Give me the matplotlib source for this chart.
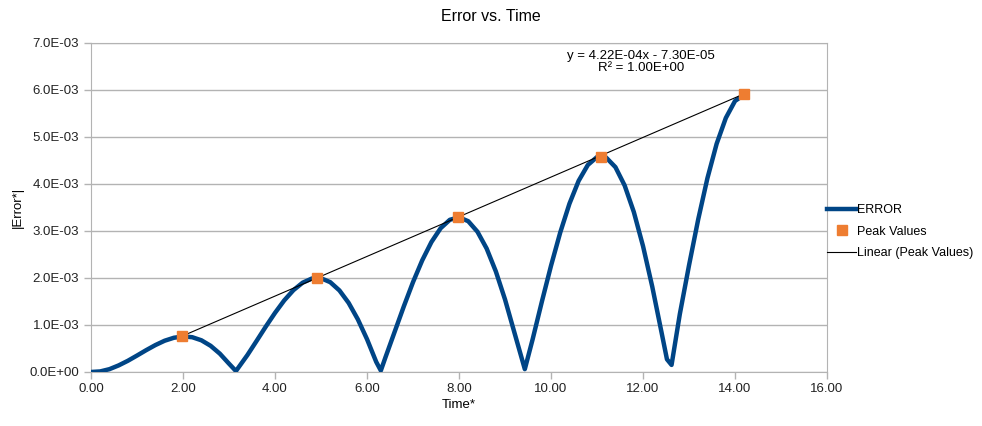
import numpy as np
import matplotlib
matplotlib.use('Agg')
import matplotlib.pyplot as plt
from matplotlib.ticker import FuncFormatter, MultipleLocator

# error curve (values in units of 1e-3)
time = [0.0, 0.2, 0.4, 0.6, 0.8, 1.0, 1.2, 1.4, 1.6, 1.8, 2.0, 2.2, 2.4, 2.6, 2.8,
        3.0, 3.15, 3.4, 3.6, 3.8, 4.0, 4.2, 4.4, 4.6, 4.8, 5.0, 5.2, 5.4, 5.6, 5.8,
        6.0, 6.2, 6.3, 6.4, 6.6, 6.8, 7.0, 7.2, 7.4, 7.6, 7.8, 8.0, 8.2, 8.4, 8.6,
        8.8, 9.0, 9.2, 9.43, 9.6, 9.8, 10.0, 10.2, 10.4, 10.6, 10.8, 11.0, 11.2,
        11.4, 11.6, 11.8, 12.0, 12.2, 12.4, 12.52, 12.62, 12.8, 13.0, 13.2, 13.4,
        13.6, 13.8, 14.0, 14.2]
error = [0.0, 0.012, 0.060, 0.140, 0.238, 0.350, 0.465, 0.573, 0.665, 0.728, 0.756,
         0.740, 0.674, 0.557, 0.390, 0.176, 0.02, 0.361, 0.662, 0.967, 1.258, 1.523,
         1.741, 1.900, 1.988, 1.994, 1.911, 1.735, 1.470, 1.120, 0.697, 0.214, 0.03,
         0.310, 0.854, 1.397, 1.913, 2.376, 2.765, 3.059, 3.238, 3.291, 3.208, 2.985,
         2.627, 2.140, 1.542, 0.852, 0.06, 0.696, 1.494, 2.262, 2.968, 3.580, 4.067,
         4.405, 4.574, 4.560, 4.358, 3.969, 3.403, 2.677, 1.817, 0.853, 0.27, 0.15,
         1.233, 2.271, 3.250, 4.124, 4.855, 5.405, 5.767, 5.900]

peak_time = [1.98, 4.91, 7.98, 11.09, 14.2]
peak_error = [0.76, 1.99, 3.30, 4.58, 5.91]

slope = 4.22e-4
intercept = -7.30e-5

blue = '#004586'
orange = '#ee7d31'
grid_gray = '#b3b3b3'

plt.rcParams.update({
    'font.family': ['Liberation Sans', 'DejaVu Sans'],
    'font.size': 9.5,
})

fig = plt.figure(figsize=(9.82, 4.26), dpi=100)
ax = fig.add_axes([0.0927, 0.1268, 0.7495, 0.7723])

ax.plot(time, np.array(error) * 1e-3, color=blue, lw=3.2, label='ERROR',
        solid_joinstyle='round', zorder=3)
ax.plot(peak_time, np.array(peak_error) * 1e-3, 's', color=orange, ms=6.5,
        label='Peak Values', zorder=5)
fit_x = np.array([peak_time[0], peak_time[-1]])
ax.plot(fit_x, slope * fit_x + intercept, color='black', lw=0.8,
        label='Linear (Peak Values)', zorder=4)

ax.set_xlim(0, 16)
ax.set_ylim(0, 7e-3)
ax.xaxis.set_major_locator(MultipleLocator(2))
ax.yaxis.set_major_locator(MultipleLocator(1e-3))
ax.xaxis.set_major_formatter(FuncFormatter(lambda v, p: f'{v:.2f}'))
ax.yaxis.set_major_formatter(FuncFormatter(lambda v, p: f'{v:.1E}'))
ax.yaxis.grid(True, color=grid_gray, lw=1)
ax.set_axisbelow(True)
for s in ax.spines.values():
    s.set_color(grid_gray)
ax.tick_params(colors=grid_gray, labelcolor='#222222', length=5, width=1,
               labelsize=9.5)
ax.tick_params(axis='x', pad=3)

ax.set_xlabel('Time*', fontsize=9.5, labelpad=3)
ax.set_ylabel('|Error*|', fontsize=9.5, labelpad=4)
fig.suptitle('Error vs. Time', y=0.978, fontsize=11.5)

ax.text(11.96, 6.6e-3, 'y = 4.22E-04x - 7.30E-05\nR² = 1.00E+00',
        ha='center', va='center', fontsize=9.5, linespacing=1.0)

fig.legend(loc='upper left', bbox_to_anchor=(0.835, 0.538), frameon=False,
           fontsize=9, handlelength=2.3, handletextpad=0.1, labelspacing=0.75,
           borderaxespad=0.2)

fig.savefig('out.png', dpi=100)
